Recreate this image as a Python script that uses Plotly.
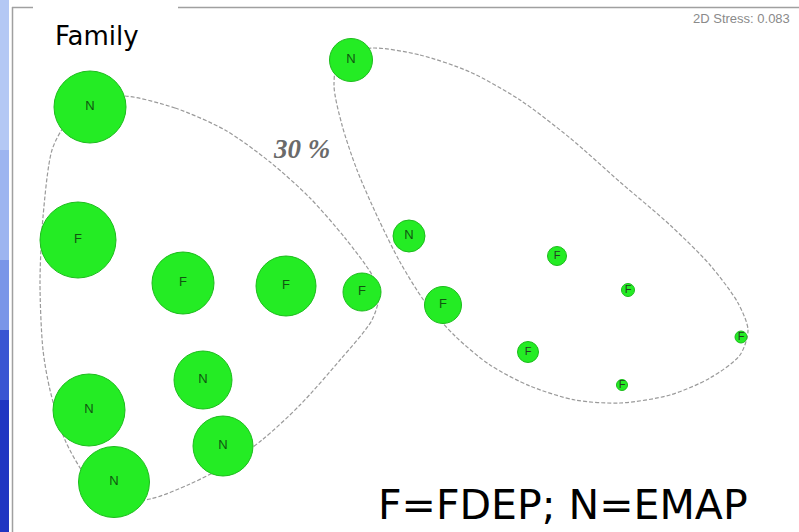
import plotly.graph_objects as go

# ---- data (MDS ordination; screen-like units) ----
mds_x = [90, 78, 183, 286, 362, 203, 89, 114, 223, 351, 409, 443, 557, 628, 528, 741, 622]
mds_y = [107, 240, 283, 286, 292, 380, 410, 482, 446, 60, 236, 305, 256, 290, 352, 337, 385]
bubble = [72, 76, 62, 60, 38, 58, 72, 71, 60, 43, 32, 37, 19, 13, 21, 12, 11]
family = ["N", "F", "F", "F", "F", "N", "N", "N", "N", "N", "N", "F", "F", "F", "F", "F", "F"]

# 30% similarity contours
left_x = [125, 175, 225, 270, 310, 345, 372, 379, 372, 340, 300, 262, 225, 190, 150, 110, 85, 65, 50, 43, 40, 43, 52, 65, 90, 125]
left_y = [96, 108, 130, 162, 198, 238, 275, 295, 320, 360, 405, 440, 466, 484, 499, 500, 475, 440, 390, 350, 283, 217, 150, 125, 100, 96]
right_x = [373, 420, 470, 520, 570, 620, 670, 710, 738, 748, 740, 710, 670, 620, 575, 530, 490, 455, 425, 400, 378, 357, 342, 334, 340, 373]
right_y = [48, 55, 72, 100, 138, 182, 225, 265, 303, 330, 355, 378, 395, 403, 400, 386, 365, 336, 302, 262, 218, 170, 125, 85, 55, 48]

fig = go.Figure()

line_style = dict(color="#9a9a9a", width=1.2, dash="4px,2px", shape="spline", smoothing=0.8)
fig.add_trace(go.Scatter(x=left_x, y=left_y, mode="lines", line=line_style, hoverinfo="skip"))
fig.add_trace(go.Scatter(x=right_x, y=right_y, mode="lines", line=line_style, hoverinfo="skip"))

txt_colors = ["#115511" if s >= 30 else "#263826" for s in bubble]
txt_sizes = [13 if s >= 30 else 11 for s in bubble]
fig.add_trace(go.Scatter(
    x=mds_x, y=mds_y, mode="markers+text", text=family,
    textposition="middle center",
    textfont=dict(family="Liberation Sans", size=txt_sizes, color=txt_colors),
    marker=dict(size=bubble, color="#24ec24", line=dict(color="#1cbc1c", width=1), opacity=1),
    hoverinfo="skip"))

shapes = []
# left slide strip
strip = [(0, 150, "#b4c8f4"), (150, 260, "#9db5f0"), (260, 330, "#7a96e8"),
         (330, 400, "#3a55d2"), (400, 532, "#1f35c2")]
for y0, y1, c in strip:
    shapes.append(dict(type="rect", xref="paper", yref="paper", x0=0, x1=9 / 799,
                       y0=1 - y1 / 532, y1=1 - y0 / 532, fillcolor=c, line=dict(width=0), layer="above"))
# frame lines
fc = "#a0a0a0"
shapes.append(dict(type="line", xref="x", yref="y", x0=12.5, x1=12.5, y0=7, y1=532, line=dict(color=fc, width=1.5)))
shapes.append(dict(type="line", xref="x", yref="y", x0=12, x1=33, y0=7.5, y1=7.5, line=dict(color=fc, width=1.5)))
shapes.append(dict(type="line", xref="x", yref="y", x0=178, x1=799, y0=7.5, y1=7.5, line=dict(color=fc, width=1.5)))

annotations = [
    dict(x=53, y=36, xref="x", yref="y", text="Family", showarrow=False, xanchor="left", yanchor="middle",
         font=dict(family="DejaVu Sans", size=26, color="#000000")),
    dict(x=691, y=18, xref="x", yref="y", text="2D Stress: 0.083", showarrow=False, xanchor="left",
         yanchor="middle", font=dict(family="Liberation Sans", size=13, color="#8a8a8a")),
    dict(x=301, y=149, xref="x", yref="y", text="<b><i>30 %</i></b>", showarrow=False, xanchor="center",
         yanchor="middle", font=dict(family="Liberation Serif", size=27, color="#6a6a6a")),
    dict(x=376, y=505, xref="x", yref="y", text="F=FDEP; N=EMAP", showarrow=False, xanchor="left",
         yanchor="middle", font=dict(family="DejaVu Sans", size=41, color="#000000")),
]

fig.update_layout(
    width=799, height=532, margin=dict(l=0, r=0, t=0, b=0),
    paper_bgcolor="#ffffff", plot_bgcolor="#ffffff", showlegend=False,
    xaxis=dict(range=[0, 799], visible=False, fixedrange=True),
    yaxis=dict(range=[532, 0], visible=False, fixedrange=True),
    shapes=shapes, annotations=annotations,
)

fig.write_html("out.html", config={"displayModeBar": False},
               post_script="document.body.style.margin='0';document.body.style.padding='0';"
                           "document.body.style.overflow='hidden';")
